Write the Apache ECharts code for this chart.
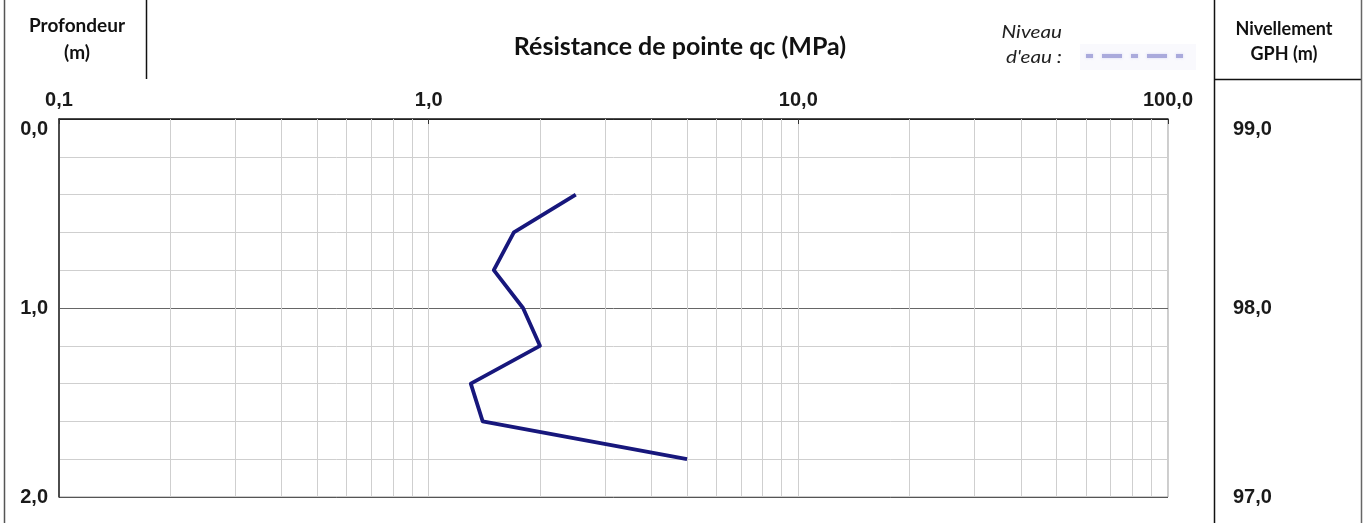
<!DOCTYPE html>
<html>
<head>
<meta charset="utf-8">
<script src="https://cdn.jsdelivr.net/npm/echarts@6/dist/echarts.min.js"></script>
<style>
html,body{margin:0;padding:0;background:#fff;}
#c{width:1367px;height:523px;}
</style>
</head>
<body>
<div id="c"></div>
<script>
// Data
const depths = [0.4, 0.6, 0.8, 1.0, 1.2, 1.4, 1.6, 1.8];
const qcValues = [2.5, 1.7, 1.5, 1.8, 2.0, 1.3, 1.4, 5.0];
const xMinorGrid = [0.2,0.3,0.4,0.5,0.6,0.7,0.8,0.9, 2,3,4,5,6,7,8,9, 20,30,40,50,60,70,80,90];
const xTickLabels = ['0,1', '1,0', '10,0', '100,0'];
const depthTicks = [0, 1, 2];
const elevationTicks = [99, 98, 97];

const chart = echarts.init(document.getElementById('c'));
const fmt1 = v => v.toFixed(1).replace('.', ',');
const hColors = ['#222','#cfcfcf','#cfcfcf','#cfcfcf','#cfcfcf','#666','#cfcfcf','#cfcfcf','#cfcfcf','#cfcfcf','#555'];
const lab = {fontFamily:'Liberation Sans', fontWeight:'bold', fontSize:20, color:'#1a1a1a'};
const hdr = {fontFamily:'Lato', fontWeight:'bold', fill:'#111', align:'center', verticalAlign:'middle'};

chart.setOption({
  animation: false,
  grid: {left: 59, right: 199, top: 119, bottom: 26, show: true, borderColor: '#9a9a9a', borderWidth: 1},
  xAxis: [{
    type: 'log', logBase: 10, min: 0.1, max: 100, position: 'top',
    axisLine: {show: true, lineStyle: {color: '#222', width: 1.5}},
    axisTick: {show: true, inside: true, length: 5, lineStyle: {color: '#333'}},
    axisLabel: Object.assign({margin: 9, formatter: v => fmt1(v)}, lab),
    splitLine: {show: true, lineStyle: {color: '#cfcfcf', width: 1}}
  }],
  yAxis: [{
    type: 'value', inverse: true, min: 0, max: 2, interval: 0.2,
    axisLine: {show: true, lineStyle: {color: '#222', width: 1.5}},
    axisTick: {show: false},
    axisLabel: Object.assign({margin: 11, verticalAlignMinLabel: 'top',
      formatter: v => depthTicks.some(t => Math.abs(t - v) < 1e-6) ? fmt1(v) : ''}, lab),
    splitLine: {show: true, lineStyle: {color: hColors, width: 1}}
  }, {
    type: 'value', min: 97, max: 99, interval: 1, position: 'right', offset: 65,
    axisLine: {show: false}, axisTick: {show: false}, splitLine: {show: false},
    axisLabel: Object.assign({margin: 0, align: 'left', verticalAlignMaxLabel: 'top',
      formatter: v => elevationTicks.includes(Math.round(v)) ? fmt1(v) : ''}, lab)
  }],
  series: [{
    type: 'line',
    data: depths.map((d, i) => [qcValues[i], d]),
    showSymbol: false, symbol: 'none',
    lineStyle: {color: '#17177c', width: 3.8, join: 'round'},
    z: 5,
    markLine: {
      silent: true, symbol: 'none', label: {show: false},
      lineStyle: {color: '#cfcfcf', width: 1, type: 'solid'},
      data: xMinorGrid.map(v => ({xAxis: v}))
    }
  }],
  graphic: [
    {type: 'line', shape: {x1: 4.5, y1: 0, x2: 4.5, y2: 523}, style: {stroke: '#555', lineWidth: 1.5}},
    {type: 'line', shape: {x1: 146.5, y1: 0, x2: 146.5, y2: 79}, style: {stroke: '#111', lineWidth: 1.5}},
    {type: 'line', shape: {x1: 1214.5, y1: 0, x2: 1214.5, y2: 523}, style: {stroke: '#111', lineWidth: 1.5}},
    {type: 'line', shape: {x1: 1214, y1: 79.5, x2: 1362, y2: 79.5}, style: {stroke: '#111', lineWidth: 1.5}},
    {type: 'line', shape: {x1: 1361.5, y1: 0, x2: 1361.5, y2: 523}, style: {stroke: '#666', lineWidth: 1.5}},
    {type: 'text', x: 77, y: 26, style: Object.assign({text: 'Profondeur', fontSize: 19}, hdr)},
    {type: 'text', x: 77, y: 53, style: Object.assign({text: '(m)', fontSize: 19}, hdr)},
    {type: 'text', x: 1284, y: 29, style: Object.assign({text: 'Nivellement', fontSize: 18}, hdr)},
    {type: 'text', x: 1284, y: 54, style: Object.assign({text: 'GPH (m)', fontSize: 18}, hdr)},
    {type: 'text', x: 680, y: 47, style: {text: 'Résistance de pointe qc (MPa)', fontFamily: 'Lato', fontWeight: 'bold', fontSize: 25, fill: '#111', align: 'center', verticalAlign: 'middle'}},
    {type: 'text', x: 1062, y: 32, scaleX: 1.15, style: {text: 'Niveau', fontFamily: 'Lato', fontStyle: 'italic', fontSize: 18, fill: '#222', align: 'right', verticalAlign: 'middle'}},
    {type: 'text', x: 1062, y: 57, scaleX: 1.15, style: {text: "d'eau :", fontFamily: 'Lato', fontStyle: 'italic', fontSize: 18, fill: '#222', align: 'right', verticalAlign: 'middle'}},
    {type: 'rect', shape: {x: 1080, y: 44, width: 116, height: 26}, style: {fill: 'rgba(242,242,250,0.45)'}},
    {type: 'line', shape: {x1: 1086, y1: 56, x2: 1185, y2: 56}, style: {stroke: '#aaaadc', lineWidth: 4, lineDash: [7, 9, 20, 9], shadowBlur: 3, shadowColor: 'rgba(205,205,240,0.8)'}}
  ]
});
</script>
</body>
</html>
